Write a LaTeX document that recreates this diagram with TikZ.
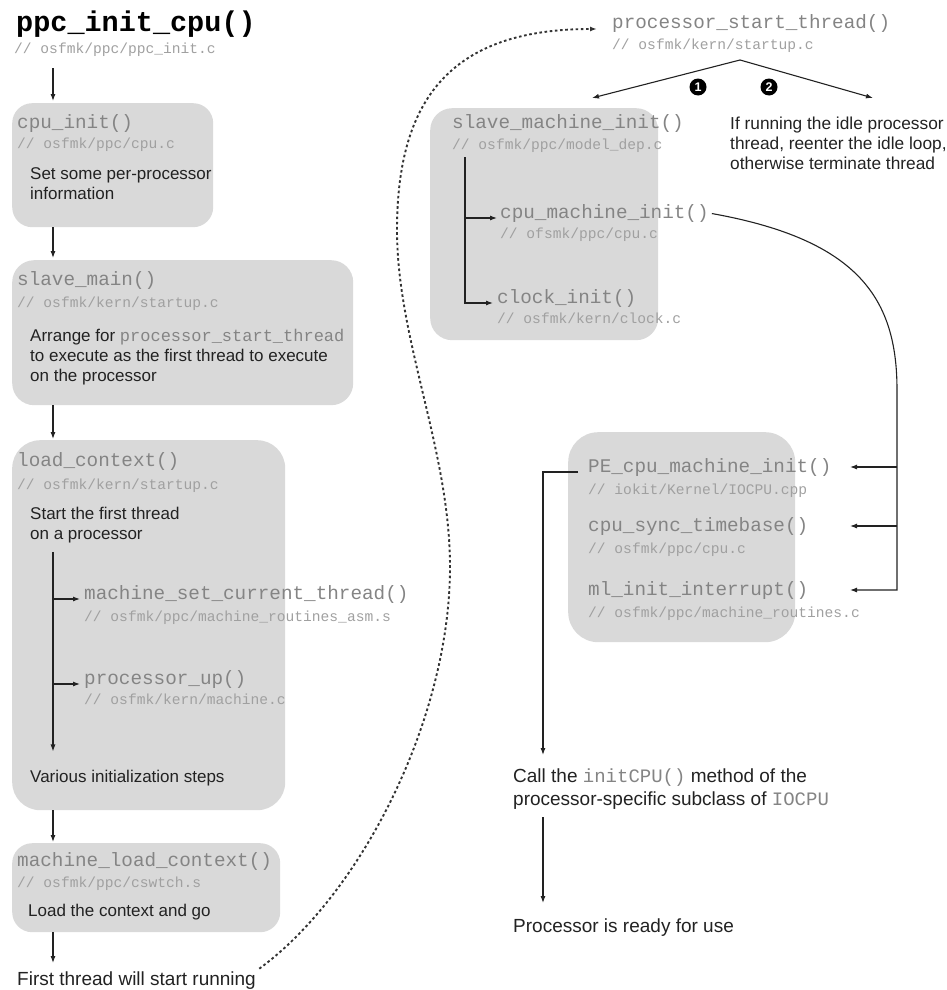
\documentclass[tikz,border=0pt]{standalone}
\usepackage{fontspec}
\setmainfont{Liberation Sans}
\setmonofont{Liberation Mono}
\usepackage{xcolor}
\usetikzlibrary{arrows.meta}

\definecolor{boxgray}{HTML}{D9D9D9}
\definecolor{codegray}{HTML}{848484}
\definecolor{pathgray}{HTML}{A0A0A0}
\definecolor{inkdark}{HTML}{222222}

\newcommand{\codeword}[1]{{\color{codegray}\ttfamily #1}}

\begin{document}
\begin{tikzpicture}[
    x=1pt, y=-1pt,
    panel/.style={fill=boxgray, anchor=north west, inner sep=0pt, rounded corners=#1},
    panel/.default=20pt,
    fname/.style={anchor=base west, inner sep=0pt, text=codegray, font=\fontsize{19.3}{22}\selectfont\ttfamily},
    fpath/.style={anchor=base west, inner sep=0pt, text=pathgray, font=\fontsize{14.6}{17}\selectfont\ttfamily},
    note/.style={anchor=north west, inner sep=0pt, align=left, text=inkdark, font=\fontsize{17}{20}\selectfont},
    bignote/.style={note, font=\fontsize{19}{23}\selectfont},
    badge/.style={circle, fill=black, text=white, inner sep=0pt, minimum size=17pt, font=\fontsize{12.5}{12.5}\selectfont\bfseries},
    flow/.style={-{Latex[length=7pt,width=5pt]}, line width=1.1pt, draw=inkdark},
    jump/.style={-{Latex[length=7pt,width=5pt]}, line width=1.9pt, dash pattern=on 2.6pt off 2.6pt, draw=black!80}
]
\useasboundingbox (0,0) rectangle (946,990);

% columns used by the connectors
\coordinate (lcol) at (53,0);
\coordinate (rcol) at (465,0);
\coordinate (bus) at (897,0);
\coordinate (tips) at (850,0);
\coordinate (drop) at (543,0);

% ppc_init_cpu() heading
\node[fname, text=black, font=\fontsize{28.5}{32}\selectfont\ttfamily\bfseries] (ppcinit) at (16,32) {ppc\_init\_cpu()};
\node[fpath] (ppcinitsrc) at (14,54) {// osfmk/ppc/ppc\_init.c};

% cpu_init()
\node[panel, minimum width=201pt, minimum height=124pt] (cpuinitbox) at (12,103) {};
\node[fname] (cpuinit) at (17,128) {cpu\_init()};
\node[fpath] (cpuinitsrc) at (17,148) {// osfmk/ppc/cpu.c};
\node[note] (cpuinitnote) at (30,167.6) {Set some per-processor\\information};

% slave_main()
\node[panel=22pt, minimum width=341pt, minimum height=145pt] (slavemainbox) at (12,260) {};
\node[fname] (slavemain) at (17,285) {slave\_main()};
\node[fpath] (slavemainsrc) at (17,307) {// osfmk/kern/startup.c};
\node[note] (slavemainnote) at (30,328.6) {Arrange for \codeword{processor\_start\_thread}\\to execute as the first thread to execute\\on the processor};

% load_context()
\node[panel=28pt, minimum width=273pt, minimum height=370pt] (loadctxbox) at (12,440) {};
\node[fname] (loadctx) at (17,466) {load\_context()};
\node[fpath] (loadctxsrc) at (17,489) {// osfmk/kern/startup.c};
\node[note] (loadctxnote) at (30,506.6) {Start the first thread\\on a processor};
\node[fname] (setthread) at (84,599) {machine\_set\_current\_thread()};
\node[fpath] (setthreadsrc) at (84,621) {// osfmk/ppc/machine\_routines\_asm.s};
\node[fname] (procup) at (84,684) {processor\_up()};
\node[fpath] (procupsrc) at (84,704) {// osfmk/kern/machine.c};
\node[note, anchor=base west] (initsteps) at (30,782) {Various initialization steps};

% machine_load_context()
\node[panel, minimum width=268pt, minimum height=89pt] (mlctxbox) at (12,843) {};
\node[fname] (mlctx) at (17,866) {machine\_load\_context()};
\node[fpath] (mlctxsrc) at (17,887) {// osfmk/ppc/cswtch.s};
\node[note, anchor=base west] (mlctxnote) at (28,916) {Load the context and go};
\node[bignote, anchor=base west] (firstrun) at (17,985) {First thread will start running};

% processor_start_thread() and its two cases
\node[fname] (pstart) at (612,29) {processor\_start\_thread()};
\node[fpath] (pstartsrc) at (612,49) {// osfmk/kern/startup.c};
\coordinate (fork) at (740,60);
\coordinate (forkl) at (592,98);
\coordinate (forkr) at (873,98);
\node[badge] (one) at (698,87) {1};
\node[badge] (two) at (769,87) {2};
\node[note, font=\fontsize{17.3}{20}\selectfont] (idlenote) at (730,116.6) {If running the idle processor\\thread, reenter the idle loop,\\otherwise terminate thread};

% slave_machine_init()
\node[panel=22pt, minimum width=228pt, minimum height=232pt] (smibox) at (430,108) {};
\node[fname] (smi) at (452,128) {slave\_machine\_init()};
\node[fpath] (smisrc) at (452,149) {// osfmk/ppc/model\_dep.c};
\node[fname] (cmi) at (500,218) {cpu\_machine\_init()};
\node[fpath] (cmisrc) at (500,238) {// ofsmk/ppc/cpu.c};
\node[fname] (clkinit) at (497,303) {clock\_init()};
\node[fpath] (clkinitsrc) at (497,323) {// osfmk/kern/clock.c};

% called from cpu_machine_init()
\node[panel=30pt, minimum width=227pt, minimum height=210pt] (pebox) at (568,432) {};
\node[fname] (pecpu) at (588,472) {PE\_cpu\_machine\_init()};
\node[fpath] (pecpusrc) at (588,494) {// iokit/Kernel/IOCPU.cpp};
\node[fname] (tbsync) at (588,531) {cpu\_sync\_timebase()};
\node[fpath] (tbsyncsrc) at (588,553) {// osfmk/ppc/cpu.c};
\node[fname] (mlint) at (588,595) {ml\_init\_interrupt()};
\node[fpath] (mlintsrc) at (588,617) {// osfmk/ppc/machine\_routines.c};

\node[bignote] (initcpu) at (513,769) {Call the \codeword{initCPU()} method of the\\processor-specific subclass of \codeword{IOCPU}};
\node[bignote, anchor=base west] (ready) at (513,932) {Processor is ready for use};

% left column flow
\draw[flow, shorten <=11pt, shorten >=2pt] (lcol |- ppcinitsrc.south) -- (lcol |- cpuinitbox.north);
\draw[flow, shorten >=2pt] (lcol |- cpuinitbox.south) -- (lcol |- slavemainbox.north);
\draw[flow, shorten >=1pt] (lcol |- slavemainbox.south) -- (lcol |- loadctxbox.north);
\draw[flow, shorten >=1pt] (lcol |- loadctxbox.south) -- (lcol |- mlctxbox.north);
\draw[flow, shorten >=8pt] (lcol |- mlctxbox.south) -- (lcol |- firstrun.north);

% inside load_context()
\draw[flow, shorten <=9pt, shorten >=18pt] (lcol |- loadctxnote.south) -- (lcol |- initsteps.north);
\draw[flow, shorten >=4pt] (lcol |- setthread.base west) -- (setthread.base west);
\draw[flow, shorten >=4pt] (lcol |- procup.base west) -- (procup.base west);

% new thread starts in processor_start_thread()
\draw[jump, shorten <=4pt, shorten >=15pt] (firstrun.north east)
    .. controls (360,895) and (450,720) .. (450,567)
    .. controls (450,450) and (397,340) .. (397,230)
    .. controls (397,100) and (450,29) .. (pstart.base west);

\draw[flow] (fork) -- (forkl);
\draw[flow] (fork) -- (forkr);

% inside slave_machine_init()
\draw[flow, shorten <=5pt, shorten >=4pt] (rcol |- smisrc.south) -- (rcol |- clkinit.base west) -- (clkinit.base west);
\draw[flow, shorten >=3pt] (rcol |- cmi.base west) -- (cmi.base west);

% cpu_machine_init() calls
\draw[flow, shorten <=3pt] (cmi.east) .. controls (860,240) and (897,300) .. (897,390)
    -- (bus |- mlint.west) -- (tips |- mlint.west);
\draw[flow] (bus |- pecpu.west) -- (tips |- pecpu.west);
\draw[flow] (bus |- tbsync.west) -- (tips |- tbsync.west);

% PE_cpu_machine_init() down to the end
\draw[flow, shorten <=10pt, shorten >=14pt] (pecpu.base west) -- (drop |- pecpu.base west) -- (drop |- initcpu.north);
\draw[flow, shorten <=7pt, shorten >=15pt] (drop |- initcpu.south) -- (drop |- ready.north);

\end{tikzpicture}
\end{document}
